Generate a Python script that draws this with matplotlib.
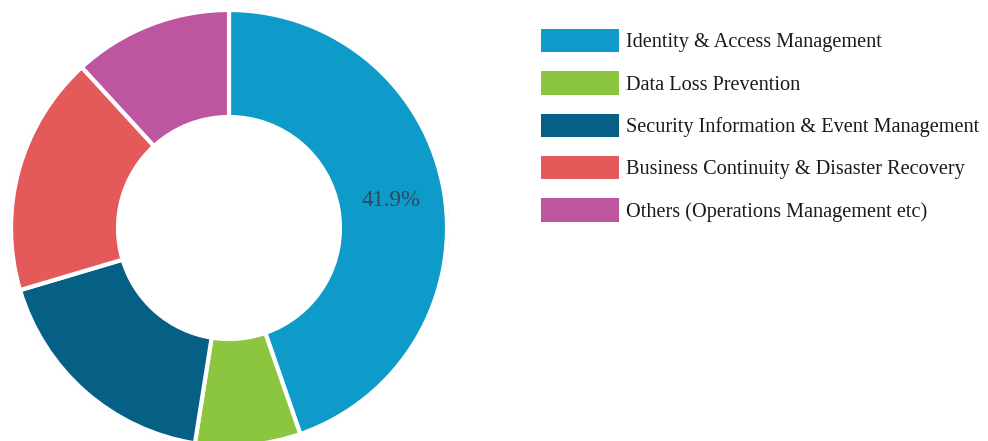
import matplotlib
matplotlib.use("Agg")
import matplotlib.pyplot as plt
from matplotlib.patches import Patch

categories = [
    "Identity & Access Management",
    "Data Loss Prevention",
    "Security Information & Event Management",
    "Business Continuity & Disaster Recovery",
    "Others (Operations Management etc)",
]
values = [44.7, 7.8, 17.9, 17.8, 11.8]
slice_labels = ["41.9%", "", "", "", ""]
colors = ["#0e9bca", "#8cc540", "#065f85", "#e4595a", "#bd559f"]

W, H = 988, 441
fig = plt.figure(figsize=(W / 100, H / 100), dpi=100)
ax = fig.add_axes([0, 0, 1, 1])
ax.set_xlim(0, W)
ax.set_ylim(0, H)
ax.set_aspect("equal")
ax.axis("off")

cx, cy, R, r = 229, H - 228, 218, 111
# faint outer halo
ax.pie([1], radius=R + 2, center=(cx, cy), colors=["#dcecf6"],
       wedgeprops=dict(width=3, linewidth=0), frame=True)
wedges, texts = ax.pie(
    values, radius=R, center=(cx, cy), colors=colors, startangle=90,
    counterclock=False, labels=slice_labels, labeldistance=(R + r) / 2 / R,
    wedgeprops=dict(width=R - r, edgecolor="white", linewidth=3),
    textprops=dict(family="Liberation Serif", fontsize=16.5, color="#2c4a5c",
                   ha="center", va="center"),
    frame=True,
)
ax.set_xlim(0, W)
ax.set_ylim(0, H)
ax.axis("off")

handles = [Patch(facecolor=c, edgecolor="none") for c in colors]
fs = 14.6
fig.legend(
    handles, categories, loc="upper left",
    bbox_to_anchor=(541 / W, 1 - 29 / H), bbox_transform=fig.transFigure,
    frameon=False, borderpad=0, borderaxespad=0,
    prop=dict(family="Liberation Serif", size=fs),
    handlelength=3.84, handleheight=1.4, handletextpad=0.35,
    labelspacing=0.93, labelcolor="#1a1a1a",
)

fig.savefig("out.png", dpi=100, facecolor="white")
